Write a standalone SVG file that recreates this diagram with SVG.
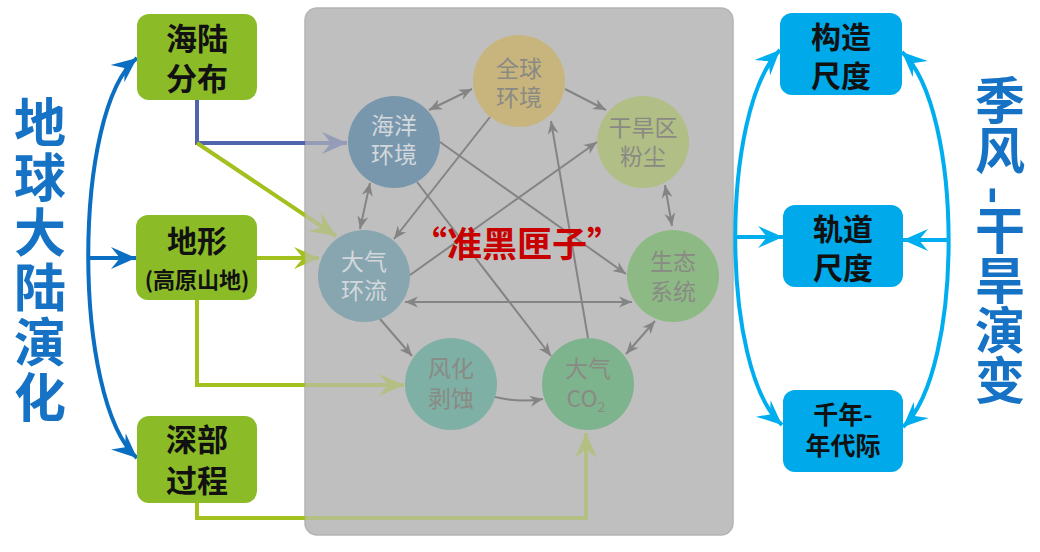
<svg xmlns="http://www.w3.org/2000/svg" width="1040" height="552" viewBox="0 0 1040 552">
<style>
.cjk{font-family:"Noto Sans CJK SC","Noto Sans",sans-serif}
.boxg{fill:#8CBB28}
.boxc{fill:#00A9EA}
.bt{font-family:"Noto Sans CJK SC","Noto Sans",sans-serif;font-weight:700;fill:#111;text-anchor:middle}
.ct{font-family:"Noto Sans CJK SC","Noto Sans",sans-serif;font-size:23px;text-anchor:middle}
.ctl{fill:#d3d8dc}
.ctd{fill:#8a8a84}
.title{font-family:"Noto Sans CJK SC","Noto Sans",sans-serif;font-weight:700;fill:#1672C4;writing-mode:vertical-rl}
.gl{fill:none;stroke:#848484;stroke-width:2}
.ext{fill:none;stroke-width:4}
</style>
<defs>
<marker id="mGray" markerUnits="userSpaceOnUse" markerWidth="14" markerHeight="12" refX="13" refY="6" orient="auto-start-reverse">
<path d="M0,0.5 L13,6 L0,11.5 L4,6 z" fill="#848484"/>
</marker>
<marker id="mBlue" markerUnits="userSpaceOnUse" markerWidth="26" markerHeight="24" refX="25" refY="12" orient="auto-start-reverse">
<path d="M0,1 L25,12 L0,23 L9,12 z" fill="#0A6FC2"/>
</marker>
<marker id="mCyan" markerUnits="userSpaceOnUse" markerWidth="26" markerHeight="24" refX="25" refY="12" orient="auto-start-reverse">
<path d="M0,1 L25,12 L0,23 L9,12 z" fill="#00AEEF"/>
</marker>
<marker id="mGreen" markerUnits="userSpaceOnUse" markerWidth="26" markerHeight="24" refX="25" refY="12" orient="auto">
<path d="M0,1 L25,12 L0,23 L9,12 z" fill="#A2C01E"/>
</marker>
<marker id="mPurple" markerUnits="userSpaceOnUse" markerWidth="26" markerHeight="24" refX="25" refY="12" orient="auto">
<path d="M0,1 L25,12 L0,23 L9,12 z" fill="#5063AE"/>
</marker>
<mask id="fade" maskUnits="userSpaceOnUse" x="0" y="0" width="1040" height="552">
<rect x="0" y="0" width="1040" height="552" fill="#fff"/>
<rect x="305" y="8" width="428" height="527" rx="12" fill="#5e5e5e"/>
</mask>
</defs>
<rect width="1040" height="552" fill="#fff"/>

<rect id="panel" x="305" y="8" width="428" height="527" rx="12" fill="#bfbfbf" stroke="#b4b4b4" stroke-width="1.5"/>

<g id="connectors">
<g mask="url(#fade)">
<path class="ext" stroke="#5063AE" d="M197,100 L197,143 L347,143" marker-end="url(#mPurple)"/>
<path class="ext" stroke="#A2C01E" d="M197,143 L336,236" marker-end="url(#mGreen)"/>
<path class="ext" stroke="#A2C01E" d="M257,258 L319,258" marker-end="url(#mGreen)"/>
<path class="ext" stroke="#A2C01E" d="M197,300 L197,385 L404,385" marker-end="url(#mGreen)"/>
<path class="ext" stroke="#A2C01E" d="M197,503 L197,518 L586,518 L586,433" marker-end="url(#mGreen)"/>
</g>
<path class="ext" stroke="#0A6FC2" d="M137,58 C72,110 72,400 137,458" marker-start="url(#mBlue)" marker-end="url(#mBlue)"/>
<path class="ext" stroke="#0A6FC2" d="M89,258 L136,258" marker-end="url(#mBlue)"/>
<path class="ext" stroke="#00AEEF" d="M780,50 C720,110 720,370 782,425" marker-start="url(#mCyan)" marker-end="url(#mCyan)"/>
<path class="ext" stroke="#00AEEF" d="M902,52 C964,110 964,370 903,427" marker-start="url(#mCyan)" marker-end="url(#mCyan)"/>
<path class="ext" stroke="#00AEEF" d="M736,237 L783,237" marker-end="url(#mCyan)"/>
<path class="ext" stroke="#00AEEF" d="M949,240 L903,240" marker-end="url(#mCyan)"/>

<path class="gl" d="M429,110 L472,89" marker-start="url(#mGray)" marker-end="url(#mGray)"/>
<path class="gl" d="M565,89 L606,110" marker-end="url(#mGray)"/>
<path class="gl" d="M665,185 L672,226" marker-start="url(#mGray)" marker-end="url(#mGray)"/>
<path class="gl" d="M655,321 L626,354" marker-start="url(#mGray)" marker-end="url(#mGray)"/>
<path class="gl" d="M405,302 L632,302" marker-start="url(#mGray)" marker-end="url(#mGray)"/>
<path class="gl" d="M370,183 L360,229" marker-start="url(#mGray)" marker-end="url(#mGray)"/>
<path class="gl" d="M380,319 L412,356" marker-end="url(#mGray)"/>
<path class="gl" d="M495,397 Q520,403 543,399" marker-end="url(#mGray)"/>
<path class="gl" d="M490,117 L394,239" marker-end="url(#mGray)"/>
<path class="gl" d="M410,275 L597,142" marker-end="url(#mGray)"/>
<path class="gl" d="M440,142 L626,274" marker-end="url(#mGray)"/>
<path class="gl" d="M417,182 L551,356" marker-end="url(#mGray)"/>
<path class="gl" d="M588,338 L551,121" marker-end="url(#mGray)"/>
</g>

<g id="n-quanqiu">
<circle cx="519" cy="81" r="46" fill="#C8B57D"/>
<text class="ct ctd" x="519" y="77">全球</text>
<text class="ct ctd" x="519" y="106">环境</text>
</g>
<g id="n-haiyang">
<circle cx="394" cy="142" r="46" fill="#7897AD"/>
<text class="ct ctl" x="394" y="134">海洋</text>
<text class="ct ctl" x="394" y="163">环境</text>
</g>
<g id="n-ganhan">
<circle cx="643" cy="142" r="46" fill="#B1BE85"/>
<text class="ct ctd" x="643" y="136">干旱区</text>
<text class="ct ctd" x="643" y="165">粉尘</text>
</g>
<g id="n-shengtai">
<circle cx="673" cy="276" r="46" fill="#8DBA84"/>
<text class="ct ctd" x="673" y="270">生态</text>
<text class="ct ctd" x="673" y="300">系统</text>
</g>
<g id="n-daqihuanliu">
<circle cx="364" cy="276" r="46" fill="#88A6B0"/>
<text class="ct ctl" x="364" y="270">大气</text>
<text class="ct ctl" x="364" y="299">环流</text>
</g>
<g id="n-fenghua">
<circle cx="451" cy="384" r="46" fill="#7EB0A5"/>
<text class="ct ctd" x="451" y="377">风化</text>
<text class="ct ctd" x="451" y="407">剥蚀</text>
</g>
<g id="n-co2">
<circle cx="588" cy="384" r="46" fill="#7EB48D"/>
<text class="ct ctd" x="588" y="377">大气</text>
<text class="ct ctd" x="586" y="407">CO<tspan font-size="14" dy="5">2</tspan></text>
</g>

<text id="label-blackbox" class="cjk" x="517" y="257" font-size="35" font-weight="700" fill="#C80000" text-anchor="middle">“准黑匣子”</text>

<g id="n-hailu">
<rect class="boxg" x="137" y="14" width="120" height="86" rx="12"/>
<text class="bt" x="197" y="50" font-size="31">海陆</text>
<text class="bt" x="197" y="90" font-size="31">分布</text>
</g>
<g id="n-dixing">
<rect class="boxg" x="136" y="215" width="121" height="85" rx="12"/>
<text class="bt" x="197" y="252" font-size="30">地形</text>
<text class="bt" x="197" y="288" font-size="22">(高原山地)</text>
</g>
<g id="n-shenbu">
<rect class="boxg" x="137" y="416" width="120" height="87" rx="12"/>
<text class="bt" x="197" y="451" font-size="31">深部</text>
<text class="bt" x="197" y="492" font-size="31">过程</text>
</g>

<g id="n-gouzao">
<rect class="boxc" x="780" y="13" width="122" height="82" rx="12"/>
<text class="bt" x="841" y="48" font-size="30">构造</text>
<text class="bt" x="841" y="87" font-size="30">尺度</text>
</g>
<g id="n-guidao">
<rect class="boxc" x="783" y="205" width="120" height="82" rx="12"/>
<text class="bt" x="843" y="240" font-size="30">轨道</text>
<text class="bt" x="843" y="279" font-size="30">尺度</text>
</g>
<g id="n-qiannian">
<rect class="boxc" x="783" y="390" width="120" height="82" rx="12"/>
<text class="bt" x="843" y="424" font-size="25">千年-</text>
<text class="bt" x="843" y="455" font-size="25">年代际</text>
</g>

<text id="title-left" class="title" x="40" y="96" font-size="52" letter-spacing="3">地球大陆演化</text>
<text id="title-right" class="title" x="1000" y="75" font-size="50">季风<tspan dy="11">-</tspan>干旱演变</text>
</svg>
